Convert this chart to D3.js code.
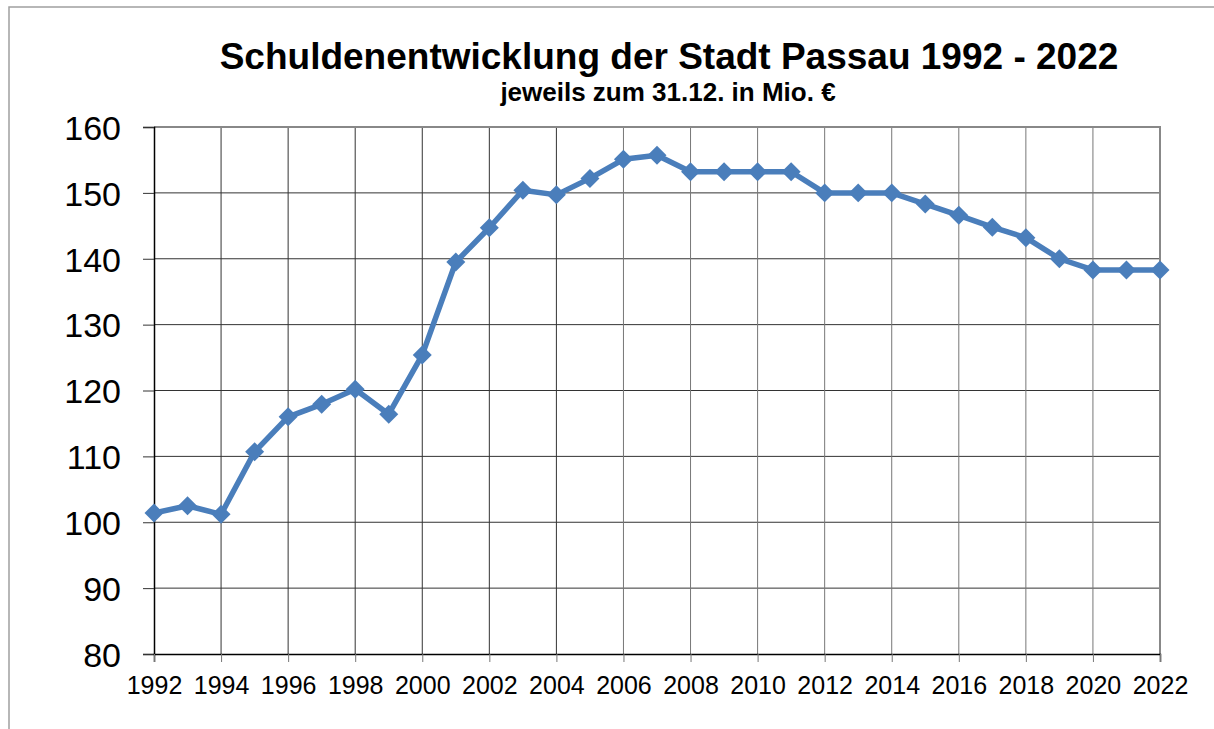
<!DOCTYPE html>
<html>
<head>
<meta charset="utf-8">
<script src="https://cdn.jsdelivr.net/npm/d3@7"></script>
<style>
  body { margin: 0; background: #fff; }
  svg text { font-family: "Liberation Sans", Arial, sans-serif; fill: #000; }
</style>
</head>
<body>
<div id="chart"></div>
<script>
// Schulden der Stadt Passau, jeweils zum 31.12., in Mio. €
const years = d3.range(1992, 2023);
const debt = [101.4, 102.5, 101.2, 110.7, 116.0, 117.9, 120.2, 116.4, 125.4, 139.5,
              144.7, 150.4, 149.7, 152.2, 155.1, 155.7, 153.2, 153.2, 153.2, 153.2,
              150.0, 150.0, 150.0, 148.3, 146.6, 144.8, 143.2, 140.0, 138.3, 138.3, 138.3];
const yTicks = [80, 90, 100, 110, 120, 130, 140, 150, 160];
const xTicks = d3.range(1992, 2023, 2);

const width = 1214, height = 729;
const margin = {left: 154, right: 1160, top: 127, bottom: 654};

const svg = d3.select('#chart').append('svg')
    .attr('width', width)
    .attr('height', height);

// outer frame (only left + top edge visible)
svg.append('path')
    .attr('d', 'M9,729 V7 H1214')
    .attr('fill', 'none')
    .attr('stroke', '#a0a0a0')
    .attr('stroke-width', 1.5);

const x = d3.scaleLinear().domain([1992, 2022]).range([margin.left, margin.right]);
const y = d3.scaleLinear().domain([80, 160]).range([margin.bottom, margin.top]);

// grid
svg.append('g')
    .selectAll('line')
    .data(yTicks.filter(d => d > 80 && d < 160))
    .join('line')
    .attr('x1', margin.left).attr('x2', margin.right)
    .attr('y1', d => y(d)).attr('y2', d => y(d))
    .attr('stroke', '#333').attr('stroke-width', 1);

svg.append('g')
    .selectAll('line')
    .data(xTicks.filter(d => d > 1992 && d < 2022))
    .join('line')
    .attr('x1', d => x(d)).attr('x2', d => x(d))
    .attr('y1', margin.top).attr('y2', margin.bottom)
    .attr('stroke', d => d >= 2006 ? '#777' : '#333').attr('stroke-width', 1);

// top + right plot border
svg.append('path')
    .attr('d', `M${margin.left},${margin.top} H${margin.right} V${margin.bottom}`)
    .attr('fill', 'none')
    .attr('stroke', '#888').attr('stroke-width', 2);

// y axis
const yAxis = svg.append('g')
    .attr('transform', `translate(${margin.left},0)`)
    .call(d3.axisLeft(y).tickValues(yTicks).tickSize(11).tickPadding(22));
yAxis.select('.domain').attr('stroke', '#000').attr('stroke-width', 1.5);
yAxis.selectAll('.tick line').attr('stroke', '#333');
yAxis.selectAll('.tick text')
    .style('font-size', '34px')
    .attr('dy', '0.36em');

// x axis
const xAxis = svg.append('g')
    .attr('transform', `translate(0,${margin.bottom})`)
    .call(d3.axisBottom(x).tickValues(xTicks).tickFormat(d3.format('d')).tickSize(8).tickPadding(14));
xAxis.select('.domain').attr('stroke', '#000').attr('stroke-width', 1.5);
xAxis.selectAll('.tick line').attr('stroke', '#777');
xAxis.selectAll('.tick text')
    .style('font-size', '25px');

// line + markers
const blue = '#4a7ebb';
const pts = years.map((yr, i) => ({year: yr, value: debt[i]}));
svg.append('path')
    .datum(pts)
    .attr('fill', 'none')
    .attr('stroke', blue)
    .attr('stroke-width', 5.5)
    .attr('stroke-linejoin', 'round')
    .attr('d', d3.line().x(d => x(d.year)).y(d => y(d.value)));

svg.append('g')
    .selectAll('path')
    .data(pts)
    .join('path')
    .attr('transform', d => `translate(${x(d.year)},${y(d.value)})`)
    .attr('d', d3.symbol(d3.symbolDiamond2, 230))
    .attr('fill', blue);

// titles
svg.append('text')
    .attr('x', 669).attr('y', 69)
    .attr('text-anchor', 'middle')
    .style('font-size', '37px').style('font-weight', 'bold')
    .text('Schuldenentwicklung der Stadt Passau 1992 - 2022');
svg.append('text')
    .attr('x', 668).attr('y', 101)
    .attr('text-anchor', 'middle')
    .style('font-size', '26px').style('font-weight', 'bold')
    .text('jeweils zum 31.12. in Mio. €');
</script>
</body>
</html>
